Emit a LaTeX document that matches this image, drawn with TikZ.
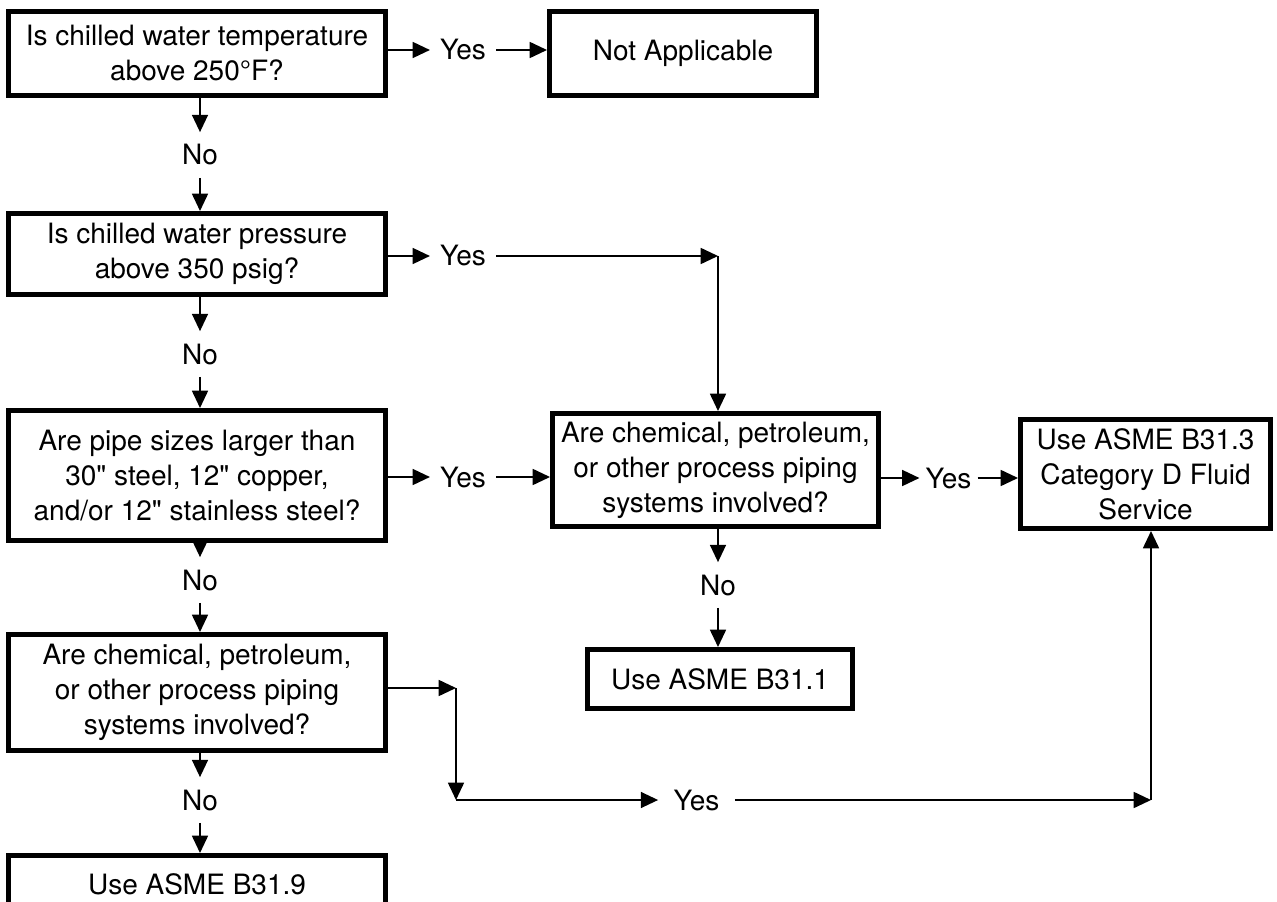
\documentclass[tikz,border=0pt]{standalone}
\usepackage{fontspec}
\setmainfont{TeX Gyre Heros}
\newfontfamily\straightq{TeX Gyre Heros}
\newcommand{\inch}{{\straightq"}}
\usetikzlibrary{arrows.meta}

\begin{document}
\begin{tikzpicture}[x=0.75pt, y=-0.75pt, line width=1.3pt, >={Triangle[length=13pt,width=12pt]},
    box/.style={draw, line width=3.75pt, align=center, inner sep=0pt, font=\fontsize{21}{26.25}\selectfont},
    answer/.style={inner xsep=7pt, inner ysep=9pt, text height=15pt, text depth=0pt, font=\fontsize{21}{26.25}\selectfont}]
    \useasboundingbox (0,0) rectangle (1277,902);
    \clip (0,0) rectangle (1277,902);
    % Left column of questions
    \node[box, minimum width=282.75pt, minimum height=63pt] (temp) at (197,53.5) {Is chilled water temperature\\above 250°F?};
    \node[box, minimum width=282.75pt, minimum height=60.75pt] (press) at (197,254) {Is chilled water pressure\\above 350 psig?};
    \node[box, minimum width=282.75pt, minimum height=97.5pt] (size) at (197,475.5) {Are pipe sizes larger than\\30\inch{} steel, 12\inch{} copper,\\and/or 12\inch{} stainless steel?};
    \node[box, minimum width=282.75pt, minimum height=87pt] (chemL) at (197,692.5) {Are chemical, petroleum,\\or other process piping\\systems involved?};
    \node[box, minimum width=282.75pt, minimum height=42.75pt] (b319) at (197,884) {Use ASME B31.9};
    % Right side boxes
    \node[box, minimum width=200.25pt, minimum height=63pt] (na) at (683,53.5) {Not Applicable};
    \node[box, minimum width=244.5pt, minimum height=84.75pt] (chemR) at (715.5,470) {Are chemical, petroleum,\\or other process piping\\systems involved?};
    \node[box, minimum width=187.5pt, minimum height=81.75pt] (b313) at (1145.5,474) {Use ASME B31.3\\Category D Fluid\\Service};
    \node[box, minimum width=198.75pt, minimum height=44.25pt] (b311) at (720,679) {Use ASME B31.1};
    % Answers
    \node[answer] (yes1) at (463,50) {Yes};
    \node[answer] (yes2) at (463,256) {Yes};
    \node[answer] (yes3) at (463,477) {Yes};
    \node[answer, inner xsep=4pt] (yes4) at (948.5,478) {Yes};
    \node[answer, inner xsep=11pt] (yes5) at (696.5,800) {Yes};
    \node[answer] (no1) at (200,155) {No};
    \node[answer] (no2) at (200,354) {No};
    \node[answer] (no3) at (200,580) {No};
    \node[answer] (no4) at (200,800) {No};
    \node[answer] (no5) at (718,585) {No};
    % Corners
    \coordinate (c2) at (718,256);
    \coordinate (c4a) at (456,688);
    \coordinate (c4b) at (456,800);
    \coordinate (c4c) at (1151,800);
    % Yes branches
    \draw[->] (temp.east |- yes1) -- (yes1.west);
    \draw[->] (yes1.east) -- (yes1.east -| na.west);
    \draw[->] (press.east |- yes2) -- (yes2.west);
    \draw[->] (yes2.east) -- (c2);
    \draw[->] (c2) -- (c2 |- chemR.north);
    \draw[->] (size.east |- yes3) -- (yes3.west);
    \draw[->] (yes3.east) -- (yes3.east -| chemR.west);
    \draw[->] (chemR.east |- yes4) -- (yes4.west);
    \draw[->] (yes4.east) -- (yes4.east -| b313.west);
    \draw[->] (chemL.east |- c4a) -- (c4a);
    \draw[->] (c4a) -- (c4b);
    \draw[->] (c4b) -- (yes5.west);
    \draw[->] (yes5.east) -- (c4c);
    \draw[->] (c4c) -- (c4c |- b313.south);
    % No branches
    \draw[->] (no1 |- temp.south) -- (no1.north);
    \draw[->] (no1.south) -- (no1 |- press.north);
    \draw[->] (no2 |- press.south) -- (no2.north);
    \draw[->] (no2.south) -- (no2 |- size.north);
    \draw[->] (no3 |- size.south) -- (no3.north);
    \draw[->] (no3.south) -- (no3 |- chemL.north);
    \draw[->] (no4 |- chemL.south) -- (no4.north);
    \draw[->] (no4.south) -- (no4 |- b319.north);
    \draw[->] (no5 |- chemR.south) -- (no5.north);
    \draw[->] (no5.south) -- (no5 |- b311.north);
\end{tikzpicture}
\end{document}
